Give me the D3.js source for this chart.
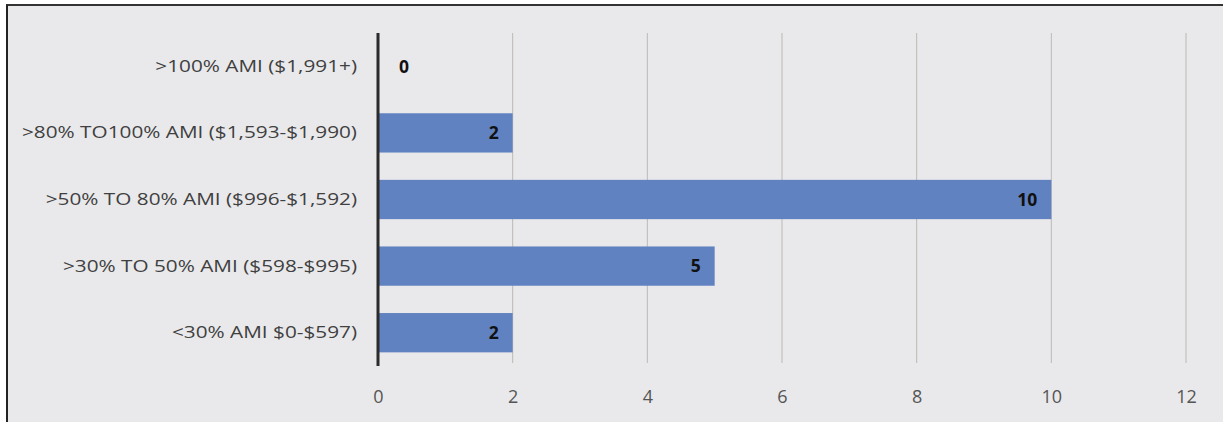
<!DOCTYPE html>
<html><head><meta charset="utf-8">
<script src="https://cdn.jsdelivr.net/npm/d3@7"></script>
<style>
html,body{margin:0;padding:0;background:#fff;}
svg{display:block;}
</style></head>
<body>
<svg id="c" width="1223" height="422"></svg>
<script>
const categories = [
  ">100% AMI ($1,991+)",
  ">80% TO100% AMI ($1,593-$1,990)",
  ">50% TO 80% AMI ($996-$1,592)",
  ">30% TO 50% AMI ($598-$995)",
  "<30% AMI $0-$597)"
];
const values = [0, 2, 10, 5, 2];
const xTicks = [0, 2, 4, 6, 8, 10, 12];

const svg = d3.select("#c");
const W = 1223, H = 422;
const font = "'Open Sans', 'Noto Sans', sans-serif";

// frame / background
svg.append("rect").attr("x", 7).attr("y", 5).attr("width", W).attr("height", H)
  .attr("fill", "#e9e9eb");
svg.append("line").attr("x1", 6).attr("x2", W).attr("y1", 5).attr("y2", 5)
  .attr("stroke", "#333").attr("stroke-width", 2);
svg.append("line").attr("x1", 7).attr("x2", 7).attr("y1", 5).attr("y2", H)
  .attr("stroke", "#222").attr("stroke-width", 2);

const pLeft = 378, pRight = 1186, pTop = 33, pBottom = 366;
const x = d3.scaleLinear().domain([0, 12]).range([pLeft, pRight]);
const y = d3.scaleBand().domain(categories).range([pTop, pBottom]).paddingInner(0.41).paddingOuter(0.205);

// gridlines
svg.append("g").selectAll("line").data(xTicks.filter(d => d > 0)).join("line")
  .attr("x1", d => x(d)).attr("x2", d => x(d))
  .attr("y1", pTop).attr("y2", pBottom - 3)
  .attr("stroke", "#bdb9b5").attr("stroke-width", 1);

// bars
svg.append("g").selectAll("rect").data(values).join("rect")
  .attr("x", x(0))
  .attr("y", (d, i) => y(categories[i]))
  .attr("width", d => x(d) - x(0))
  .attr("height", y.bandwidth())
  .attr("fill", "#6182c0");

// value labels
svg.append("g").selectAll("text").data(values).join("text")
  .attr("x", d => Math.max(x(d) - 14, x(0) + 31))
  .attr("y", (d, i) => y(categories[i]) + y.bandwidth() / 2)
  .attr("dy", "0.36em")
  .attr("text-anchor", "end")
  .attr("font-family", font).attr("font-size", 17.5).attr("font-weight", "bold")
  .attr("fill", "#111")
  .text(d => d);

// x axis labels
const xAxis = d3.axisBottom(x).tickValues(xTicks).tickSize(0).tickPadding(0);
const gx = svg.append("g").attr("transform", `translate(0,${pBottom + 24})`).call(xAxis);
gx.select(".domain").remove();
gx.selectAll("text").attr("font-family", font).attr("font-size", 18).attr("fill", "#555");

// y axis
const yAxis = d3.axisLeft(y).tickSize(0).tickPadding(21);
const gy = svg.append("g").attr("transform", `translate(${pLeft},0)`).call(yAxis);
gy.select(".domain").remove();
const yTexts = gy.selectAll("text").attr("font-family", font).attr("font-size", 17).attr("fill", "#404040");
// stretch labels horizontally to match reference letter width
let maxW = 0;
yTexts.each(function(){ maxW = Math.max(maxW, this.getComputedTextLength()); });
const k = 335 / maxW;
yTexts.each(function(){
  const w = this.getComputedTextLength();
  d3.select(this).attr("textLength", w * k).attr("lengthAdjust", "spacingAndGlyphs");
});

svg.append("line").attr("x1", pLeft).attr("x2", pLeft).attr("y1", pTop).attr("y2", pBottom)
  .attr("stroke", "#2b2b2b").attr("stroke-width", 3);
</script>
</body></html>
